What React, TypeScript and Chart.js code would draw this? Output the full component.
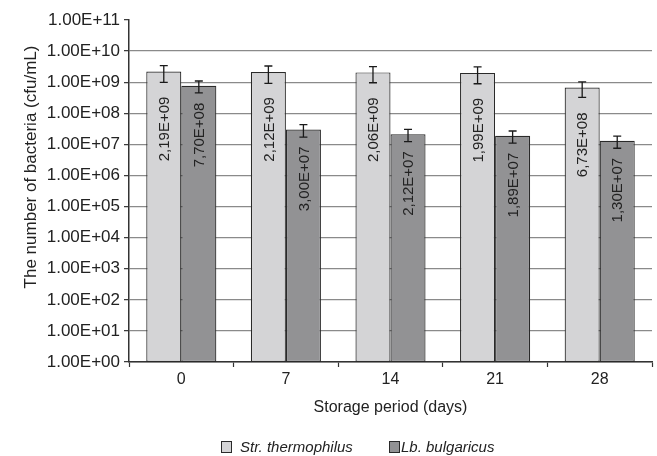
import React, { useEffect, useRef } from 'react';
import { Chart, registerables } from 'chart.js';

Chart.register(...registerables);

// ---- data ----
const categories = ['0', '7', '14', '21', '28'];
const seriesNames = ['Str. thermophilus', 'Lb. bulgaricus'];
const strValues = [2.19e9, 2.12e9, 2.06e9, 1.99e9, 6.73e8];
const strErrors = [1.2e9, 1.2e9, 1.1e9, 1.1e9, 3.5e8];
const lbValues = [7.7e8, 3.0e7, 2.12e7, 1.89e7, 1.3e7];
const lbErrors = [3.2e8, 1.3e7, 9.0e6, 8.0e6, 5.5e6];
const yTicks = [1e0, 1e1, 1e2, 1e3, 1e4, 1e5, 1e6, 1e7, 1e8, 1e9, 1e10, 1e11];
const xTitle = 'Storage period (days)';
const yTitle = 'The number of bacteria (cfu/mL)';

const FONT = "'Liberation Sans', Arial, sans-serif";
const TEXT = '#222222';
const fills = ['#d4d4d6', '#929294'];
const labelOffsets = [25, 17];

function expParts(v: number) {
  const s = v.toExponential(2); // e.g. 2.19e+9
  const [m, e] = s.split('e');
  const n = parseInt(e, 10);
  const sign = n < 0 ? '-' : '+';
  const ee = String(Math.abs(n)).padStart(2, '0');
  return { m, sign, ee };
}
function fmtTick(v: number) {
  const p = expParts(v);
  return `${p.m}E${p.sign}${p.ee}`;
}
function fmtBar(v: number) {
  const p = expParts(v);
  return `${p.m.replace('.', ',')}E${p.sign}${p.ee}`;
}

const overlayPlugin = {
  id: 'overlay',
  afterDatasetsDraw(chart: any) {
    const ctx = chart.ctx as CanvasRenderingContext2D;
    const y = chart.scales.y;
    chart.data.datasets.forEach((ds: any, di: number) => {
      const meta = chart.getDatasetMeta(di);
      meta.data.forEach((bar: any, i: number) => {
        const v = ds.data[i];
        const e = ds.errors[i];
        // value label
        ctx.save();
        ctx.translate(bar.x, bar.y + labelOffsets[di]);
        ctx.rotate(-Math.PI / 2);
        ctx.font = `15px ${FONT}`;
        ctx.fillStyle = TEXT;
        ctx.textAlign = 'right';
        ctx.textBaseline = 'middle';
        ctx.fillText(fmtBar(v), 0, 1);
        ctx.restore();
        // error bar
        const yt = y.getPixelForValue(v + e);
        const yb = y.getPixelForValue(v - e);
        ctx.save();
        ctx.strokeStyle = '#1a1a1a';
        ctx.lineWidth = 1.3;
        ctx.beginPath();
        ctx.moveTo(bar.x, yt);
        ctx.lineTo(bar.x, yb);
        ctx.moveTo(bar.x - 4, yt);
        ctx.lineTo(bar.x + 4, yt);
        ctx.moveTo(bar.x - 4, yb);
        ctx.lineTo(bar.x + 4, yb);
        ctx.stroke();
        ctx.restore();
      });
    });
  },
  afterDraw(chart: any) {
    const ctx = chart.ctx as CanvasRenderingContext2D;
    const area = chart.chartArea;
    // y title
    ctx.save();
    ctx.translate(31, (area.top + area.bottom) / 2 - 24);
    ctx.rotate(-Math.PI / 2);
    ctx.font = `17px ${FONT}`;
    ctx.fillStyle = TEXT;
    ctx.textAlign = 'center';
    ctx.textBaseline = 'middle';
    ctx.fillText(yTitle, 0, 0);
    ctx.restore();
    // legend
    const items = [
      { x: 221, tx: 240 },
      { x: 389, tx: 401 },
    ];
    ctx.save();
    ctx.font = `italic 15px ${FONT}`;
    ctx.textBaseline = 'alphabetic';
    ctx.textAlign = 'left';
    items.forEach((it, i) => {
      ctx.fillStyle = fills[i];
      ctx.fillRect(it.x, 441, 10, 11);
      ctx.strokeStyle = '#2a2a2a';
      ctx.lineWidth = 1;
      ctx.strokeRect(it.x + 0.5, 441.5, 10, 11);
      ctx.fillStyle = TEXT;
      ctx.fillText(seriesNames[i], it.tx, 452);
    });
    ctx.restore();
  },
};

export default function App() {
  const ref = useRef<HTMLCanvasElement | null>(null);
  useEffect(() => {
    document.body.style.margin = '0';
    const canvas = ref.current!;
    const chart = new Chart(canvas, {
      type: 'bar',
      data: {
        labels: categories,
        datasets: [
          {
            label: seriesNames[0],
            data: strValues,
            errors: strErrors,
            backgroundColor: fills[0],
            borderColor: '#2a2a2a',
            borderWidth: 1.2,
            borderSkipped: false,
            categoryPercentage: 0.67,
            barPercentage: 1.0,
          } as any,
          {
            label: seriesNames[1],
            data: lbValues,
            errors: lbErrors,
            backgroundColor: fills[1],
            borderColor: '#2a2a2a',
            borderWidth: 1.2,
            borderSkipped: false,
            categoryPercentage: 0.67,
            barPercentage: 1.0,
          } as any,
        ],
      },
      options: {
        responsive: false,
        animation: false,
        devicePixelRatio: 1,
        layout: { padding: { top: 20, right: 5, bottom: 39, left: 0 } },
        plugins: { legend: { display: false }, tooltip: { enabled: false } },
        scales: {
          x: {
            type: 'category',
            offset: true,
            grid: {
              offset: true,
              drawOnChartArea: false,
              drawTicks: true,
              tickLength: 5,
              tickColor: '#333333',
              tickWidth: 1.2,
            },
            border: { display: true, color: '#333333', width: 1.5 },
            ticks: { font: { family: FONT, size: 16 }, color: TEXT, padding: 3, maxRotation: 0 },
            title: {
              display: true,
              text: xTitle,
              font: { family: FONT, size: 16 },
              color: TEXT,
              padding: { top: 0, bottom: 0 },
            },
            afterFit(scale: any) {
              scale.height = 55;
            },
          },
          y: {
            type: 'logarithmic',
            min: 1,
            max: 1e11,
            afterBuildTicks(scale: any) {
              scale.ticks = yTicks.map((v) => ({ value: v, major: true }));
            },
            ticks: {
              autoSkip: false,
              callback: (v: any) => fmtTick(Number(v)),
              font: { family: FONT, size: 17 },
              color: TEXT,
              padding: 4,
            },
            grid: {
              color: (c: any) => (c.tick && c.tick.value === 1e11 ? 'rgba(0,0,0,0)' : '#8a8a8a'),
              lineWidth: 1.3,
              drawTicks: true,
              tickLength: 5,
              tickColor: '#333333',
              tickWidth: 1.2,
            },
            border: { display: true, color: '#333333', width: 1.5 },
            afterFit(scale: any) {
              scale.width = 129;
            },
          },
        },
      } as any,
      plugins: [overlayPlugin],
    });
    return () => chart.destroy();
  }, []);
  return (
    <div style={{ width: 657, height: 456, background: '#ffffff' }}>
      <canvas ref={ref} width={657} height={456} style={{ display: 'block' }} />
    </div>
  );
}
